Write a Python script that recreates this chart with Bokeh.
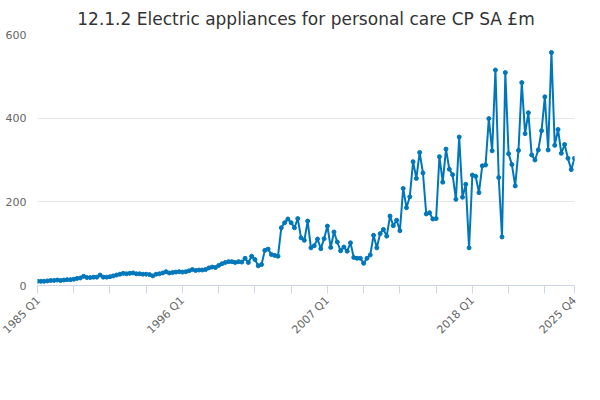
import math
from bokeh.plotting import figure
from bokeh.models import FixedTicker, Legend, LegendItem, Title, Range1d
from bokeh.embed import file_html
from bokeh.resources import INLINE

values = [
    10, 10, 10, 11, 12, 12, 13, 12, 13, 14, 14, 15, 17, 18, 22, 19,
    19, 20, 20, 25, 20, 20, 21, 23, 25, 27, 29, 28, 29, 30, 28, 28,
    27, 27, 26, 23, 27, 28, 30, 33, 30, 31, 32, 33, 32, 33, 35, 38,
    36, 37, 37, 38, 42, 44, 43, 48, 52, 55, 57, 57, 55, 57, 56, 65,
    55, 70, 62, 47, 50, 84, 87, 74, 72, 70, 138, 150, 159, 150, 138, 160,
    114, 108, 154, 90, 95, 111, 88, 112, 142, 91, 128, 104, 83, 92, 82, 102,
    67, 65, 65, 53, 65, 73, 120, 90, 124, 134, 118, 166, 143, 156, 131, 232,
    186, 212, 296, 256, 318, 269, 171, 174, 159, 160, 308, 247, 326, 278, 265, 206,
    355, 211, 242, 90, 264, 261, 222, 286, 288, 399, 322, 515, 258, 116, 509, 315,
    289, 238, 323, 485, 363, 413, 312, 300, 324, 370, 451, 324, 557, 335, 373, 316,
    337, 304, 277, 304,
]
start_year = 1985
labels = [f"{start_year + i // 4} Q{i % 4 + 1}" for i in range(len(values))]
x = list(range(len(values)))
tick_pos = list(range(0, 160, 11)) + [len(values) - 1]
shown = {0, 44, 88, 132, len(values) - 1}
y_ticks = [0, 200, 400, 600]

color = "#0077bb"
p = figure(frame_width=537, frame_height=251, output_backend="svg", toolbar_location=None,
           x_range=Range1d(0, len(values) - 1), y_range=Range1d(0, 600),
           min_border_left=37, min_border_right=10, min_border_top=4, min_border_bottom=0)
p.outline_line_color = None
p.background_fill_color = "white"
p.border_fill_color = "white"

p.title.text = "12.1.2 Electric appliances for personal care CP SA £m"
p.title.align = "center"
p.title.text_font = "DejaVu Sans"
p.title.text_font_size = "17px"
p.title.text_font_style = "normal"
p.title.text_color = "#333333"
p.title.standoff = 12

r1 = p.line(x, values, line_color=color, line_width=2)
r2 = p.scatter(x, values, size=4, color=color)

p.xaxis.ticker = FixedTicker(ticks=tick_pos)
p.xaxis.major_label_overrides = {t: (labels[t] if t in shown else "") for t in tick_pos}
p.xaxis.major_label_orientation = math.pi / 4
p.xaxis.axis_line_color = "#ccd6eb"
p.xaxis.major_tick_line_color = "#ccd6eb"
p.xaxis.major_tick_in = 0
p.xaxis.major_tick_out = 8
p.xaxis.minor_tick_line_color = None
p.xaxis.major_label_text_color = "#666666"
p.xaxis.major_label_text_font_size = "11px"
p.xaxis.major_label_text_font = "DejaVu Sans"
p.xgrid.grid_line_color = None

p.yaxis.ticker = FixedTicker(ticks=y_ticks)
p.yaxis.axis_line_color = None
p.yaxis.major_tick_line_color = None
p.yaxis.minor_tick_line_color = None
p.yaxis.major_label_text_color = "#666666"
p.yaxis.major_label_text_font_size = "11px"
p.yaxis.major_label_text_font = "DejaVu Sans"
p.ygrid.grid_line_color = "#e6e6e6"

legend = Legend(items=[LegendItem(label="12.1.2 Electric appliances for personal care CP SA £m", renderers=[r1, r2])],
                orientation="horizontal", location="center", border_line_color=None,
                label_text_font="DejaVu Sans", label_text_font_size="12px", label_text_font_style="bold",
                label_text_color="#333333", glyph_width=22, glyph_height=12, margin=2, padding=2,
                label_height=12)
p.add_layout(legend, "below")

src = Title(text="Source:", align="right", text_font="DejaVu Sans", text_font_size="12px",
            text_font_style="normal", text_color="#666666", standoff=0)
p.add_layout(src, "below")

open("out.html", "w").write(file_html(p, INLINE))
